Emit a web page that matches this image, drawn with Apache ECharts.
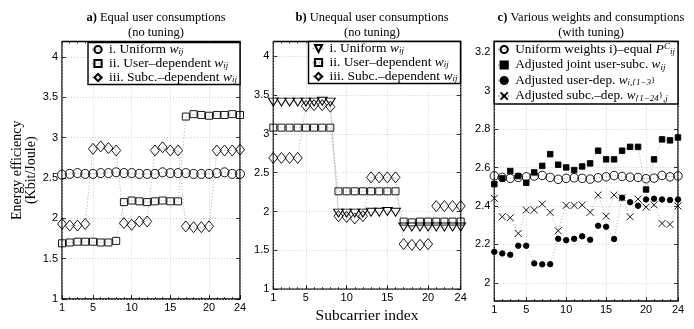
<!DOCTYPE html>
<html>
<head>
<meta charset="utf-8">
<script src="https://cdn.jsdelivr.net/npm/echarts@6/dist/echarts.min.js"></script>
<style>
html, body { margin: 0; padding: 0; background: #fff; }
#chart { width: 694px; height: 329px; }
</style>
</head>
<body>
<div id="chart"></div>
<script>
// x categories and tick labels
var subcarrier = [1, 2, 3, 4, 5, 6, 7, 8, 9, 10, 11, 12, 13, 14, 15, 16, 17, 18, 19, 20, 21, 22, 23, 24];
var xTicks = [1, 5, 10, 15, 20, 24];
var yTicksAB = [1, 1.5, 2, 2.5, 3, 3.5, 4];
var yTicksC = [2, 2.2, 2.4, 2.6, 2.8, 3, 3.2];

// a) equal user consumptions
var aUniform = [2.54, 2.55, 2.56, 2.55, 2.55, 2.56, 2.56, 2.57, 2.56, 2.56, 2.55, 2.55, 2.55, 2.57, 2.56, 2.56, 2.56, 2.55, 2.55, 2.55, 2.56, 2.57, 2.55, 2.55];
var aUserDep = [1.69, 1.70, 1.71, 1.71, 1.71, 1.70, 1.70, 1.72, 2.20, 2.22, 2.21, 2.20, 2.21, 2.22, 2.21, 2.21, 3.26, 3.29, 3.28, 3.27, 3.28, 3.28, 3.29, 3.28];
var aSubcDep = [1.93, 1.91, 1.91, 1.93, 2.86, 2.89, 2.87, 2.84, 1.94, 1.92, 1.96, 1.96, 2.84, 2.88, 2.84, 2.84, 1.90, 1.89, 1.89, 1.90, 2.84, 2.84, 2.84, 2.85];

// b) unequal user consumptions
var bUniform = [3.41, 3.41, 3.41, 3.41, 3.41, 3.41, 3.42, 3.41, 1.98, 1.98, 1.98, 1.98, 1.99, 1.99, 2.00, 1.99, 1.80, 1.80, 1.80, 1.80, 1.80, 1.80, 1.80, 1.80];
var bUserDep = [3.08, 3.08, 3.08, 3.08, 3.08, 3.08, 3.08, 3.08, 2.26, 2.26, 2.26, 2.26, 2.26, 2.26, 2.26, 2.26, 1.87, 1.86, 1.87, 1.87, 1.87, 1.87, 1.87, 1.87];
var bSubcDep = [2.69, 2.69, 2.69, 2.69, 3.36, 3.37, 3.37, 3.35, 1.94, 1.93, 1.91, 1.94, 2.44, 2.44, 2.44, 2.44, 1.58, 1.57, 1.57, 1.58, 2.07, 2.07, 2.07, 2.07];

// c) with tuning
var cUniform = [2.557, 2.549, 2.544, 2.549, 2.552, 2.556, 2.559, 2.549, 2.539, 2.544, 2.547, 2.544, 2.540, 2.547, 2.552, 2.559, 2.554, 2.550, 2.549, 2.542, 2.545, 2.559, 2.552, 2.557];
var cJoint = [2.514, 2.544, 2.582, 2.556, 2.521, 2.575, 2.609, 2.670, 2.615, 2.601, 2.587, 2.606, 2.622, 2.688, 2.643, 2.643, 2.688, 2.708, 2.708, 2.486, 2.643, 2.747, 2.742, 2.757];
var cUserDep = [2.161, 2.153, 2.146, 2.193, 2.193, 2.101, 2.096, 2.097, 2.229, 2.222, 2.229, 2.242, 2.224, 2.297, 2.292, 2.228, 2.443, 2.420, 2.401, 2.434, 2.438, 2.434, 2.431, 2.434];
var cSubcDep = [2.440, 2.344, 2.339, 2.257, 2.379, 2.379, 2.410, 2.367, 2.271, 2.403, 2.403, 2.405, 2.367, 2.457, 2.347, 2.457, 2.443, 2.344, 2.436, 2.394, 2.406, 2.309, 2.304, 2.400];

var labelFont = 'Liberation Sans';
var textFont = 'Liberation Serif';

var legendText = {
    aU: '{t|i. Uniform }{w|w}{s|ij}',
    aV: '{t|ii. User\u2013dependent }{w|w}{s|ij}',
    aS: '{t|iii. Subc.\u2013dependent }{w|w}{s|ij}',
    bU: '{t|i. Uniform }{w|w}{s|ij}',
    bV: '{t|ii. User\u2013dependent }{w|w}{s|ij}',
    bS: '{t|iii. Subc.\u2013dependent }{w|w}{s|ij}',
    c1: '{t|Uniform weights i)\u2013equal }{w|P}{p|C}{s|ij}',
    c2: '{t|Adjusted joint user-subc. }{w|w}{s|ij}',
    c3: '{t|Adjusted user-dep. }{w|w}{s|i,{1\u22123}' + '}',
    c4: '{t|Adjusted subc.\u2013dep. }{w|w}{s|{1\u221224}' + '}' + '{s|,j}'
};

function pairs(values) {
    var out = [];
    for (var i = 0; i < values.length; i++) {
        out.push([subcarrier[i], values[i]]);
    }
    return out;
}

function lineSeries(id, panel, values, symbol, size, fill, rotate) {
    return {
        id: id, name: id, type: 'line',
        xAxisIndex: panel * 3, yAxisIndex: panel * 2,
        data: pairs(values),
        symbol: symbol, symbolSize: size, symbolRotate: rotate || 0,
        showSymbol: true, clip: false, silent: true,
        lineStyle: { color: '#a8a8a8', width: 0.8, type: [1.2, 2] },
        itemStyle: { color: fill, borderColor: '#000', borderWidth: 0.9 },
        emphasis: { disabled: true }
    };
}

function xAxes(panel, withName) {
    var main = {
        gridIndex: panel, type: 'value', min: 1, max: 24,
        axisLine: { show: false },
        axisTick: { show: true, inside: true, length: 4, customValues: xTicks, lineStyle: { color: '#000', width: 0.8 } },
        axisLabel: { customValues: xTicks, color: '#000', fontFamily: labelFont, fontSize: 11, margin: 3 },
        splitLine: { show: true, lineStyle: { color: '#c2c2c2', width: 0.8, type: [1, 2] } }
    };
    if (withName) {
        main.name = 'Subcarrier index';
        main.nameLocation = 'middle';
        main.nameGap = 9;
        main.nameTextStyle = { fontFamily: textFont, fontSize: 15.5, color: '#000' };
    }
    var minor = function (pos) {
        return {
            gridIndex: panel, type: 'value', min: 1, max: 24, position: pos,
            axisLine: { show: false },
            axisTick: { show: true, inside: true, length: 2, customValues: subcarrier, lineStyle: { color: '#000', width: 0.7 } },
            axisLabel: { show: false },
            splitLine: { show: false }
        };
    };
    return [main, minor('top'), minor('bottom')];
}

function yAxes(panel, min, max, ticks, withName) {
    var left = {
        gridIndex: panel, type: 'value', min: min, max: max,
        axisLine: { show: false },
        axisTick: { show: true, inside: true, length: 4, customValues: ticks, lineStyle: { color: '#000', width: 0.8 } },
        axisLabel: { customValues: ticks, color: '#000', fontFamily: labelFont, fontSize: 11, margin: 4 },
        splitLine: { show: true, lineStyle: { color: '#c2c2c2', width: 0.8, type: [1, 2] } }
    };
    if (withName) {
        left.name = 'Energy efficiency\n(Kbit/Joule)';
        left.nameLocation = 'middle';
        left.nameGap = 24;
        left.nameTextStyle = { fontFamily: textFont, fontSize: 14, lineHeight: 14, color: '#000' };
    }
    var right = {
        gridIndex: panel, type: 'value', min: min, max: max, position: 'right',
        axisLine: { show: false },
        axisTick: { show: true, inside: true, length: 4, customValues: ticks, lineStyle: { color: '#000', width: 0.8 } },
        axisLabel: { show: false },
        splitLine: { show: false }
    };
    return [left, right];
}

function richText(size, lh) {
    return {
        t: { fontFamily: textFont, fontSize: size, lineHeight: lh, color: '#000' },
        w: { fontFamily: textFont, fontSize: size, lineHeight: lh, fontStyle: 'italic', color: '#000' },
        s: { fontFamily: textFont, fontSize: 9, fontStyle: 'italic', verticalAlign: 'bottom', color: '#000' },
        p: { fontFamily: textFont, fontSize: 9, fontStyle: 'italic', verticalAlign: 'top', color: '#000' }
    };
}

function legend(names, right, top, gap, pad, size, lh) {
    return {
        data: names, orient: 'vertical', right: right, top: top,
        itemGap: gap, itemWidth: 12, itemHeight: 9, padding: pad,
        backgroundColor: '#fff', borderColor: '#000', borderWidth: 1.4, borderRadius: 0,
        selectedMode: false,
        formatter: function (name) { return legendText[name]; },
        textStyle: { fontFamily: textFont, fontSize: 9, color: '#000', rich: richText(size, lh) }
    };
}

function title(head, rest, sub, left) {
    return {
        text: '{b|' + head + '} ' + rest, subtext: sub,
        left: left, top: 6, textAlign: 'center', itemGap: 2,
        textStyle: { fontFamily: textFont, fontSize: 12.5, fontWeight: 'normal', color: '#000',
            rich: { b: { fontFamily: textFont, fontSize: 12.5, fontWeight: 'bold', color: '#000' } } },
        subtextStyle: { fontFamily: textFont, fontSize: 12.5, color: '#000' }
    };
}

var chart = echarts.init(document.getElementById('chart'), null, { renderer: 'canvas' });
var hollow = 'rgba(0,0,0,0)';
var option = {
    animation: false,
    backgroundColor: '#fff',
    title: [
        title('a)', 'Equal user consumptions', '(no tuning)', 151),
        title('b)', 'Unequal user consumptions', '(no tuning)', 367),
        title('c)', 'Various weights and consumptions', '(with tuning)', 586)
    ],
    grid: [
        { left: 62, top: 41.5, width: 178, height: 257.5, show: true, borderColor: '#000', borderWidth: 1.3, backgroundColor: 'transparent' },
        { left: 273.3, top: 41.5, width: 187.4, height: 257.5, show: true, borderColor: '#000', borderWidth: 1.3, backgroundColor: 'transparent' },
        { left: 494.3, top: 41.5, width: 183.7, height: 259.5, show: true, borderColor: '#000', borderWidth: 1.3, backgroundColor: 'transparent' }
    ],
    xAxis: xAxes(0, false).concat(xAxes(1, true)).concat(xAxes(2, false)),
    yAxis: yAxes(0, 1, 4.19, yTicksAB, true).concat(yAxes(1, 1, 4.19, yTicksAB, false)).concat(yAxes(2, 1.905, 3.257, yTicksC, false)),
    legend: [
        legend(['aU', 'aV', 'aS'], 454, 42.5, 0, [0, 3, 0, 3], 13.5, 13.5),
        legend(['bU', 'bV', 'bS'], 233.5, 41.5, 0, [0, 3, 0, 3], 13.5, 13.5),
        legend(['c1', 'c2', 'c3', 'c4'], 16, 41.5, 2, [1, 3, 1, 3], 13.3, 14)
    ],
    series: [
        lineSeries('aU', 0, aUniform, 'circle', 9, hollow),
        lineSeries('aV', 0, aUserDep, 'rect', 7, hollow),
        lineSeries('aS', 0, aSubcDep, 'diamond', [9, 11], hollow),
        lineSeries('bU', 1, bUniform, 'triangle', [10, 8], hollow, 180),
        lineSeries('bV', 1, bUserDep, 'rect', 7, hollow),
        lineSeries('bS', 1, bSubcDep, 'diamond', [9, 11], hollow),
        lineSeries('c1', 2, cUniform, 'circle', 8.5, hollow),
        lineSeries('c2', 2, cJoint, 'rect', 5.5, '#000'),
        lineSeries('c3', 2, cUserDep, 'circle', 5.5, '#000'),
        lineSeries('c4', 2, cSubcDep, 'path://M0,0L10,10M0,10L10,0', 7, hollow)
    ]
};
chart.setOption(option);
</script>
</body>
</html>
